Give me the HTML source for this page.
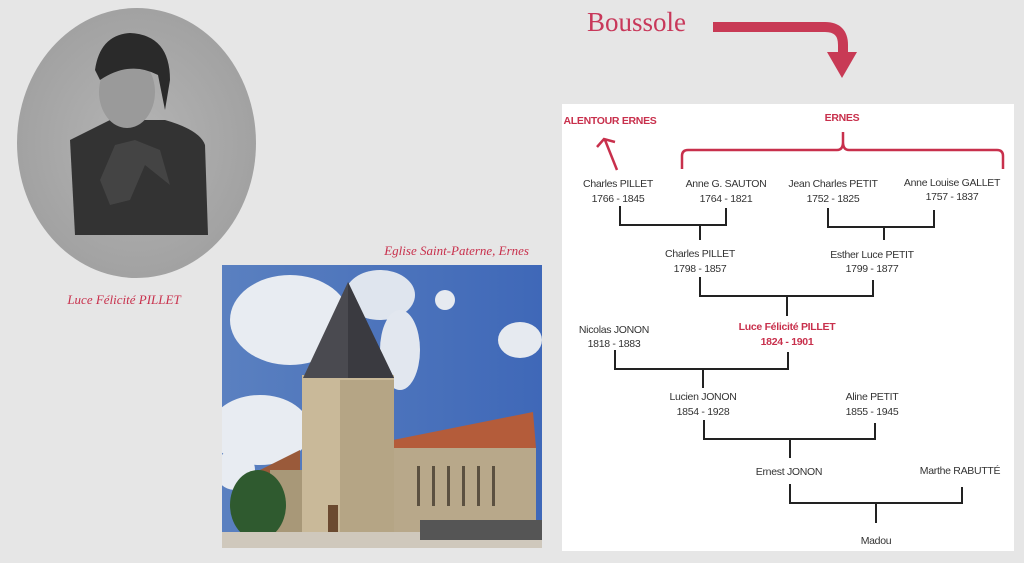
<!DOCTYPE html>
<html><head><meta charset="utf-8"><style>
body{margin:0;width:1024px;height:563px;background:#e6e6e6;overflow:hidden;font-family:"Liberation Sans",sans-serif}
</style></head><body>
<svg width="1024" height="563" viewBox="0 0 1024 563" xmlns="http://www.w3.org/2000/svg" style="position:absolute;left:0;top:0">
<defs>
<radialGradient id="pg" cx="0.5" cy="0.5" r="0.55"><stop offset="0" stop-color="#b4b4b4"/><stop offset="1" stop-color="#a0a0a0"/></radialGradient>
<linearGradient id="sky" x1="0" y1="0" x2="1" y2="0"><stop offset="0" stop-color="#5a80c0"/><stop offset="1" stop-color="#3f68b8"/></linearGradient>
<clipPath id="ph"><rect x="222" y="265" width="320" height="283"/></clipPath>
<clipPath id="ov"><ellipse cx="136.5" cy="143" rx="119.5" ry="135"/></clipPath>
</defs>
<!-- portrait -->
<ellipse cx="136.5" cy="143" rx="119.5" ry="135" fill="url(#pg)"/>
<g clip-path="url(#ov)">
<path d="M70 140 Q100 125 110 120 L165 120 Q200 130 205 145 L208 235 L75 235 Z" fill="#333"/>
<path d="M100 180 L115 145 L135 140 L160 150 L170 185 L145 165 L130 200 L110 205 Z" fill="#444"/>
<ellipse cx="127" cy="92" rx="28" ry="36" fill="#9a9a9a"/>
<path d="M95 70 Q100 35 130 33 Q170 35 170 80 L165 110 L158 75 Q130 60 100 80 Z" fill="#2a2a2a"/>
</g>
<!-- church photo -->
<g clip-path="url(#ph)">
<rect x="222" y="265" width="320" height="283" fill="url(#sky)"/>
<ellipse cx="290" cy="320" rx="60" ry="45" fill="#e8ecf2"/>
<ellipse cx="380" cy="295" rx="35" ry="25" fill="#dfe5ee"/>
<ellipse cx="400" cy="350" rx="20" ry="40" fill="#e2e7ef"/>
<ellipse cx="445" cy="300" rx="10" ry="10" fill="#e6eaf0"/>
<ellipse cx="520" cy="340" rx="22" ry="18" fill="#e6eaf0"/>
<ellipse cx="260" cy="430" rx="50" ry="35" fill="#e8ecf2"/>
<ellipse cx="235" cy="470" rx="20" ry="20" fill="#e8ecf2"/>
<polygon points="393,440 533,412 536,448 393,458" fill="#b45c3a"/>
<rect x="393" y="448" width="143" height="90" fill="#b8a88a"/>
<g fill="#5b5040"><rect x="417" y="466" width="3" height="40"/><rect x="432" y="466" width="3" height="40"/><rect x="447" y="466" width="3" height="40"/><rect x="462" y="466" width="3" height="40"/><rect x="477" y="466" width="3" height="40"/><rect x="492" y="466" width="3" height="40"/></g>
<polygon points="260,470 300,450 300,540 260,540" fill="#9a5a3a"/>
<rect x="270" y="470" width="35" height="70" fill="#a89878"/>
<rect x="302" y="375" width="92" height="162" fill="#c9b999"/>
<rect x="340" y="380" width="54" height="157" fill="#b5a585"/>
<polygon points="348,282 303,378 394,378" fill="#4a4a50"/>
<polygon points="348,282 348,378 394,378" fill="#3a3a40"/>
<rect x="328" y="505" width="10" height="30" fill="#6b4a30"/>
<ellipse cx="258" cy="505" rx="28" ry="35" fill="#2f5a2f"/>
<rect x="222" y="532" width="320" height="16" fill="#cfc8bc"/>
<rect x="420" y="520" width="122" height="20" fill="#555"/>
</g>
<!-- captions -->
<text x="124" y="304" text-anchor="middle" font-family="Liberation Serif,serif" font-style="italic" font-size="13" fill="#c8304c">Luce Félicité PILLET</text>
<text x="529" y="255" text-anchor="end" font-family="Liberation Serif,serif" font-style="italic" font-size="13" fill="#c8304c">Eglise Saint-Paterne, Ernes</text>
<!-- Boussole -->
<text x="587" y="31" font-family="Liberation Serif,serif" font-size="27" fill="#c8385a">Boussole</text>
<path d="M713 27 L825 27 Q843 27 843 45 L843 55" fill="none" stroke="#c83a55" stroke-width="10"/>
<polygon points="827,52 857,52 842,78" fill="#c83a55"/>
<!-- tree panel -->
<rect x="562" y="104" width="452" height="447" fill="#fff"/>
<g font-size="10.5" fill="#333" text-anchor="middle" letter-spacing="-0.3">
<text x="610" y="124" fill="#c8304c" font-weight="bold">ALENTOUR ERNES</text>
<text x="842" y="121" fill="#c8304c" font-weight="bold">ERNES</text>
<text x="618" y="187">Charles PILLET</text><text x="618" y="202">1766 - 1845</text>
<text x="726" y="187">Anne G. SAUTON</text><text x="726" y="202">1764 - 1821</text>
<text x="833" y="187">Jean Charles PETIT</text><text x="833" y="202">1752 - 1825</text>
<text x="952" y="186">Anne Louise GALLET</text><text x="952" y="200">1757 - 1837</text>
<text x="700" y="257">Charles PILLET</text><text x="700" y="272">1798 - 1857</text>
<text x="872" y="258">Esther Luce PETIT</text><text x="872" y="272">1799 - 1877</text>
<text x="614" y="333">Nicolas JONON</text><text x="614" y="347">1818 - 1883</text>
<text x="787" y="330" fill="#c8304c" font-weight="bold">Luce Félicité PILLET</text><text x="787" y="345" fill="#c8304c" font-weight="bold">1824 - 1901</text>
<text x="703" y="400">Lucien JONON</text><text x="703" y="415">1854 - 1928</text>
<text x="872" y="400">Aline PETIT</text><text x="872" y="415">1855 - 1945</text>
<text x="789" y="475">Ernest JONON</text>
<text x="960" y="474">Marthe RABUTTÉ</text>
<text x="876" y="544">Madou</text>
</g>
<g fill="none" stroke="#222" stroke-width="2">
<path d="M620 206 V225 H726 V208 M700 225 V240"/>
<path d="M828 208 V227 H934 V210 M884 227 V240"/>
<path d="M700 277 V296 H873 V280 M787 296 V316"/>
<path d="M615 350 V369 H788 V352 M703 369 V388"/>
<path d="M704 420 V439 H875 V423 M790 439 V458"/>
<path d="M790 484 V503 H962 V487 M876 503 V523"/>
</g>
<g fill="none" stroke="#c8304c" stroke-width="2.5">
<path d="M682 169 V156 Q682 150 688 150 H837 Q843 150 843 142 V132 M843 142 Q843 150 849 150 H997 Q1003 150 1003 156 V169"/>
<path d="M617 170 L605 140 M597 147 L604 139 L615 142"/>
</g>
</svg>
</body></html>
